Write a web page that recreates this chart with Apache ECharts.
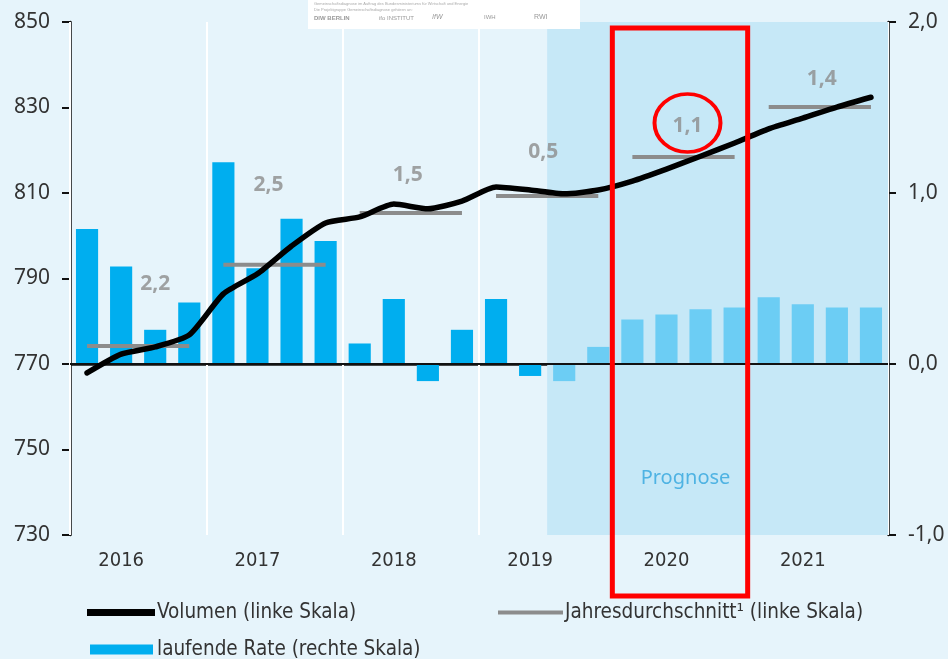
<!DOCTYPE html>
<html>
<head>
<meta charset="utf-8">
<script src="https://cdn.jsdelivr.net/npm/echarts@6/dist/echarts.min.js"></script>
<style>
  html, body { margin: 0; padding: 0; background: #e6f4fb; }
  #chart { width: 948px; height: 659px; }
</style>
</head>
<body>
<div id="chart"></div>
<script>
// quarters 2016 Q1 .. 2021 Q4
const years = ['2016', '2017', '2018', '2019', '2020', '2021']
const quarters = years.flatMap(y => ['Q1', 'Q2', 'Q3', 'Q4'].map(q => y + ' ' + q))

// Volumen, linke Skala
const volumen = [
  767.9, 772.3, 774.0, 776.8,
  786.4, 791.1, 797.6, 803.0,
  804.4, 807.4, 806.3, 808.1,
  811.4, 810.7, 809.8, 810.7,
  812.8, 815.6, 818.6, 821.7,
  825.0, 827.5, 830.1, 832.4
]
// laufende Rate, rechte Skala
const rate = [
  0.79, 0.57, 0.20, 0.36,
  1.18, 0.56, 0.85, 0.72,
  0.12, 0.38, -0.10, 0.20,
  0.38, -0.07, -0.10, 0.10,
  0.26, 0.29, 0.32, 0.33,
  0.39, 0.35, 0.33, 0.33
]
// Jahresdurchschnitt (level) and growth labels
const avgLevel = [774.2, 793.2, 805.3, 809.3, 818.4, 830.1]
const avgGrowth = ['2,2', '2,5', '1,5', '0,5', '1,1', '1,4']
const forecastStart = 14  // first quarter drawn as Prognose

const labelDist = [52, 69, 28, 33, 21, 18]
const labelDx = [17, -6, -3, -4, 4, 2]

const condensed = '"DejaVu Sans Condensed", "Liberation Sans Narrow", "Noto Sans", sans-serif'
const round = '"Noto Sans", "DejaVu Sans", sans-serif'

const avgSegments = avgLevel.flatMap((v, k) => [[4 * k + 0.5, v], [4 * k + 3.5, v], '-'])

const chart = echarts.init(document.getElementById('chart'))

const option = {
  backgroundColor: '#e6f4fb',
  animation: false,
  grid: { left: 70, right: 60, top: 22, bottom: 124 },
  xAxis: [
    {
      type: 'category',
      data: quarters,
      boundaryGap: true,
      axisLine: { lineStyle: { color: '#111', width: 2.5 } },
      axisTick: {
        interval: (i) => i % 4 === 0,
        length: 8,
        lineStyle: { color: '#111', width: 2 }
      },
      axisLabel: {
        interval: (i) => i % 4 === 1,
        formatter: v => v.slice(0, 4),
        color: '#333',
        fontFamily: condensed,
        fontSize: 20,
        margin: 16
      },
      splitLine: { show: false }
    },
    {
      type: 'value',
      min: 0,
      max: 24,
      interval: 4,
      z: 1,
      axisLine: { show: false },
      axisTick: { show: false },
      axisLabel: { show: false },
      splitLine: { show: true, lineStyle: { color: '#ffffff', width: 2 } }
    }
  ],
  yAxis: [
    {
      type: 'value',
      min: 730,
      max: 850,
      interval: 20,
      position: 'left',
      axisLine: { show: true, lineStyle: { color: '#111', width: 2.5 } },
      axisTick: { show: true, length: 8, lineStyle: { color: '#111', width: 2 } },
      axisLabel: { color: '#333', fontFamily: round, fontSize: 21, margin: 20 },
      splitLine: { show: false }
    },
    {
      type: 'value',
      min: -1,
      max: 2,
      interval: 1,
      position: 'right',
      axisLine: { show: true, lineStyle: { color: '#111', width: 2.5 } },
      axisTick: { show: true, length: 8, lineStyle: { color: '#111', width: 2 } },
      axisLabel: {
        color: '#333',
        fontFamily: round,
        fontSize: 21,
        margin: 20,
        formatter: v => v.toFixed(1).replace('.', ',')
      },
      splitLine: { show: false }
    }
  ],
  legend: [
    {
      left: 87, top: 602, padding: 0,
      icon: 'rect', itemWidth: 68, itemHeight: 7,
      selectedMode: false,
      textStyle: { color: '#333', fontFamily: condensed, fontSize: 20.5, padding: [0, 0, 0, -3] },
      data: [{ name: 'Volumen (linke Skala)', itemStyle: { color: '#000' } }]
    },
    {
      left: 498, top: 602, padding: 0,
      icon: 'rect', itemWidth: 65, itemHeight: 4,
      selectedMode: false,
      textStyle: { color: '#333', fontFamily: condensed, fontSize: 20.5, padding: [0, 0, 0, -3] },
      data: [{ name: 'Jahresdurchschnitt¹ (linke Skala)', itemStyle: { color: '#8c8c8c' } }]
    },
    {
      left: 90, top: 639, padding: 0,
      icon: 'rect', itemWidth: 63, itemHeight: 10,
      selectedMode: false,
      textStyle: { color: '#333', fontFamily: condensed, fontSize: 20.5, padding: [0, 0, 0, -1] },
      data: [{ name: 'laufende Rate (rechte Skala)', itemStyle: { color: '#00aeef' } }]
    }
  ],
  series: [
    {
      // Prognose shading
      name: 'prognose',
      type: 'line',
      xAxisIndex: 1,
      yAxisIndex: 0,
      data: [],
      z: 0,
      silent: true,
      markArea: {
        silent: true,
        itemStyle: { color: '#c6e8f7' },
        data: [[{ xAxis: forecastStart }, { xAxis: 24 }]]
      }
    },
    {
      name: 'laufende Rate (rechte Skala)',
      type: 'bar',
      xAxisIndex: 0,
      yAxisIndex: 1,
      barWidth: '65%',
      itemStyle: { color: '#00aeef' },
      data: rate.map((v, i) => ({
        value: v,
        itemStyle: { color: i >= forecastStart ? '#6ccdf4' : '#00aeef' }
      })),
      z: 2,
      markLine: {
        silent: true,
        symbol: 'none',
        label: { show: false },
        lineStyle: { color: '#111', width: 2, type: 'solid' },
        data: [{ yAxis: 0 }]
      }
    },
    {
      name: 'Jahresdurchschnitt¹ (linke Skala)',
      type: 'line',
      xAxisIndex: 1,
      yAxisIndex: 0,
      data: avgSegments,
      connectNulls: false,
      symbol: 'none',
      itemStyle: { color: '#8c8c8c' },
      lineStyle: { color: '#8c8c8c', width: 4 },
      z: 4
    },
    {
      name: 'avgLabels',
      type: 'scatter',
      xAxisIndex: 1,
      yAxisIndex: 0,
      symbolSize: 0,
      silent: true,
      z: 6,
      data: avgLevel.map((v, k) => ({
        value: [4 * k + 2, v],
        label: { distance: labelDist[k], offset: [labelDx[k], 0] }
      })),
      label: {
        show: true,
        position: 'top',
        formatter: p => avgGrowth[p.dataIndex],
        color: '#8c8c8c',
        fontFamily: round,
        fontWeight: 'bold',
        fontSize: 21
      }
    },
    {
      name: 'Volumen (linke Skala)',
      type: 'line',
      xAxisIndex: 0,
      yAxisIndex: 0,
      data: volumen,
      smooth: 0.2,
      symbol: 'none',
      itemStyle: { color: '#000' },
      lineStyle: { color: '#000', width: 5.5, cap: 'round', join: 'round' },
      z: 5
    }
  ]
}

chart.setOption(option)

// annotations placed from the axes
const x2020a = chart.convertToPixel({ xAxisIndex: 1 }, 16)
const x2020b = chart.convertToPixel({ xAxisIndex: 1 }, 20)
const x2020c = chart.convertToPixel({ xAxisIndex: 1 }, 18)
const yAvg2020 = chart.convertToPixel({ yAxisIndex: 0 }, avgLevel[4])

chart.setOption({
  graphic: [
    {
      type: 'rect',
      shape: { x: 308, y: 0, width: 272, height: 29 },
      style: { fill: '#ffffff' },
      z: 10
    },
    {
      type: 'text', x: 314, y: 2, z: 11,
      style: { text: 'Gemeinschaftsdiagnose im Auftrag des Bundesministeriums für Wirtschaft und Energie', fill: '#aaa', font: '4px sans-serif' }
    },
    {
      type: 'text', x: 314, y: 8, z: 11,
      style: { text: 'Die Projektgruppe Gemeinschaftsdiagnose gehören an:', fill: '#aaa', font: '4px sans-serif' }
    },
    {
      type: 'text', x: 314, y: 15, z: 11,
      style: { text: 'DIW BERLIN', fill: '#999', font: 'bold 6px sans-serif' }
    },
    {
      type: 'text', x: 379, y: 15, z: 11,
      style: { text: 'ifo INSTITUT', fill: '#999', font: '6px sans-serif' }
    },
    {
      type: 'text', x: 432, y: 14, z: 11,
      style: { text: 'IfW', fill: '#999', font: 'italic 7px sans-serif' }
    },
    {
      type: 'text', x: 484, y: 14, z: 11,
      style: { text: 'IWH', fill: '#999', font: '6px sans-serif' }
    },
    {
      type: 'text', x: 534, y: 14, z: 11,
      style: { text: 'RWI', fill: '#999', font: '7px sans-serif' }
    },
    {
      type: 'text',
      x: x2020c + 2,
      y: 478,
      z: 11,
      style: {
        text: 'Prognose',
        fill: '#4fb3e3',
        font: '20px "Noto Sans", sans-serif',
        textAlign: 'center',
        textVerticalAlign: 'middle'
      }
    },
    {
      type: 'rect',
      shape: { x: x2020a - 3, y: 28, width: x2020b - x2020a - 1, height: 568 },
      style: { fill: 'none', stroke: '#ff0000', lineWidth: 5 },
      z: 20
    },
    {
      type: 'circle',
      x: x2020c + 4,
      y: yAvg2020 - 34,
      scaleY: 29 / 33,
      shape: { cx: 0, cy: 0, r: 33 },
      style: { fill: 'none', stroke: '#ff0000', lineWidth: 4 },
      z: 20
    }
  ]
})
</script>
</body>
</html>
